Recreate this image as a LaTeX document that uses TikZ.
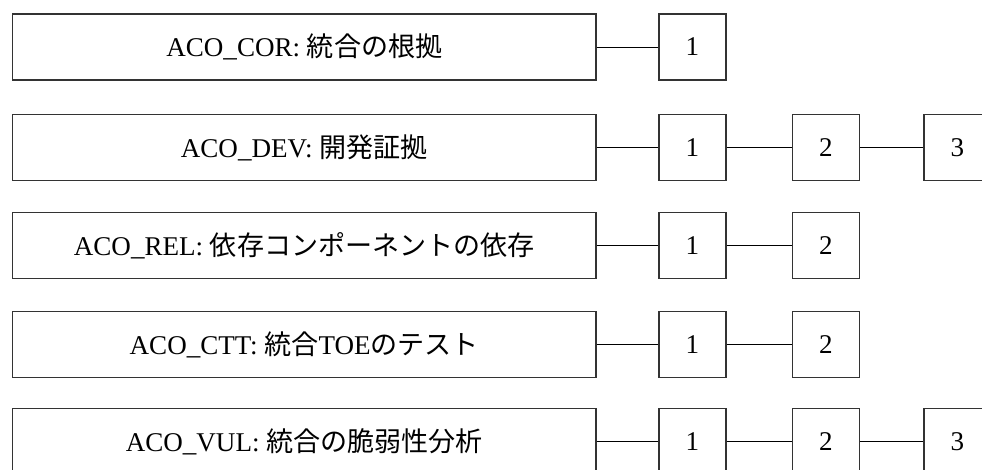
\documentclass[tikz,border=0pt]{standalone}
\usepackage{fontspec}
\setmainfont{Liberation Serif}
\newfontfamily\jp{Noto Sans CJK JP}
\usetikzlibrary{positioning}

\begin{document}
\begin{tikzpicture}[x=0.2mm,y=-0.2mm,
  fam/.style={rectangle,draw=black!80,line width=0.8pt,minimum width=116.6mm,minimum height=13.2mm,inner sep=0pt,font=\fontsize{15.4}{18}\selectfont},
  comp/.style={rectangle,draw=black!80,line width=0.8pt,minimum width=13.4mm,minimum height=13.2mm,inner sep=0pt,font=\fontsize{15.4}{18}\selectfont},
  link/.style={draw=black,line width=0.5pt}]
\useasboundingbox (0,0) rectangle (982,469);
\clip (0,0) rectangle (982,469);
\node at (304.3,47)[fam](cor){ACO\_COR: {\jp 統合の根拠}};
\node at (692.5,47)[comp](cor1){1};
\node at (304.3,147.5)[fam](dev){ACO\_DEV: {\jp 開発証拠}};
\node at (692.5,147.5)[comp](dev1){1};
\node at (826,147.5)[comp](dev2){2};
\node at (957.5,147.5)[comp](dev3){3};
\node at (304.3,245.5)[fam](rel){ACO\_REL: {\jp 依存コンポーネントの依存}};
\node at (692.5,245.5)[comp](rel1){1};
\node at (826,245.5)[comp](rel2){2};
\node at (304.3,344.5)[fam](ctt){ACO\_CTT: {\jp 統合}TOE{\jp のテスト}};
\node at (692.5,344.5)[comp](ctt1){1};
\node at (826,344.5)[comp](ctt2){2};
\node at (304.3,441.5)[fam](vul){ACO\_VUL: {\jp 統合の脆弱性分析}};
\node at (692.5,441.5)[comp](vul1){1};
\node at (826,441.5)[comp](vul2){2};
\node at (957.5,441.5)[comp](vul3){3};
\draw[link] (cor) -- (cor1);
\draw[link] (dev) -- (dev1) (dev1) -- (dev2) (dev2) -- (dev3);
\draw[link] (rel) -- (rel1) (rel1) -- (rel2);
\draw[link] (ctt) -- (ctt1) (ctt1) -- (ctt2);
\draw[link] (vul) -- (vul1) (vul1) -- (vul2) (vul2) -- (vul3);
\end{tikzpicture}
\end{document}
